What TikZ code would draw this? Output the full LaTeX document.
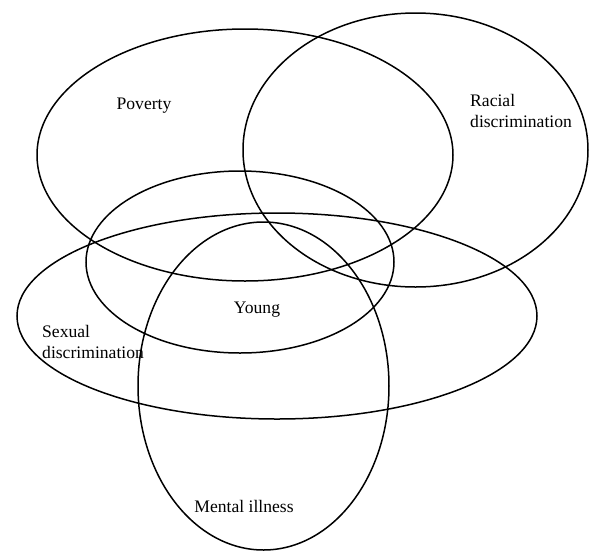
\documentclass[tikz,border=0pt]{standalone}
\usepackage{fontspec}
\setmainfont{Liberation Serif}
\usetikzlibrary{shapes.geometric}

\begin{document}
\begin{tikzpicture}[x=1pt,y=-1pt,
  set/.style={draw=black,ellipse,line width=1.5pt,inner sep=0pt},
  lbl/.style={font=\fontsize{17.6}{21.5}\selectfont,inner sep=0pt}]
\useasboundingbox (0,0) rectangle (590,550);
\node[set,minimum width=416pt,minimum height=252pt] (poverty) at (245,155) {};
\node[set,minimum width=345pt,minimum height=274pt] (racial) at (415.5,150) {};
\node[set,minimum width=308pt,minimum height=182pt] (young) at (240,262) {};
\node[set,minimum width=520pt,minimum height=206pt] (sexual) at (277,316) {};
\node[set,minimum width=251pt,minimum height=328pt] (mental) at (263.5,386) {};
\node[lbl] (povertytext) at (144,106) {Poverty};
\node[lbl,align=left,anchor=west] (racialtext) at (470,111) {Racial\\discrimination};
\node[lbl] (youngtext) at (257,310) {Young};
\node[lbl,align=left,anchor=west] (sexualtext) at (42,342) {Sexual\\discrimination};
\node[lbl] (mentaltext) at (244,506) {Mental illness};
\end{tikzpicture}
\end{document}
